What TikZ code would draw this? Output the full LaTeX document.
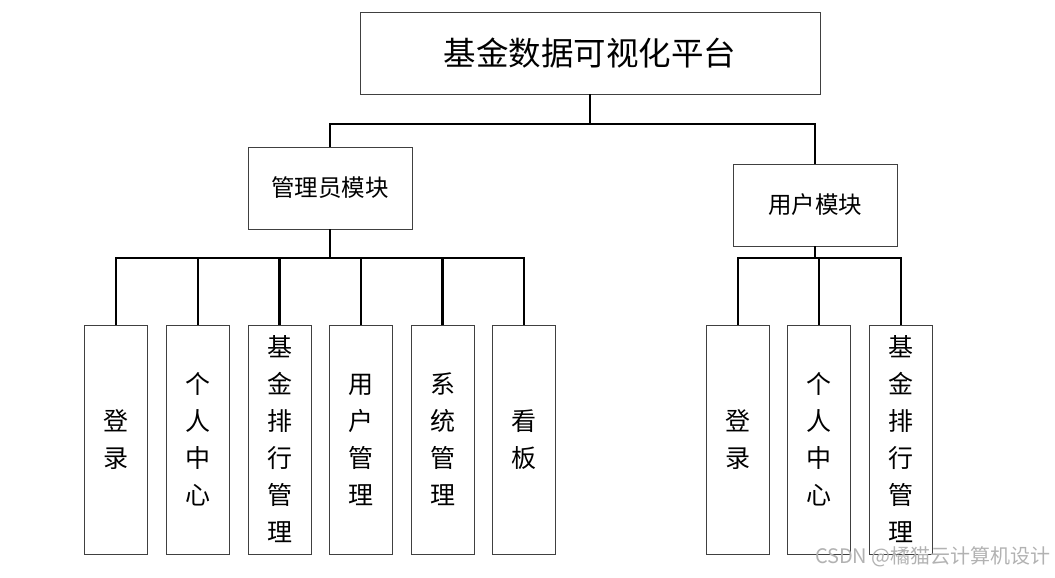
\documentclass[tikz,border=0pt]{standalone}
\usepackage{fontspec}
\setmainfont{Noto Sans CJK SC}
\begin{document}
\begin{tikzpicture}[x=1pt,y=-1pt,
  box/.style={draw=black!75, line width=0.9pt, fill=white, inner sep=0pt, align=center},
  topbox/.style={box, minimum width=460pt, minimum height=82pt, font=\fontsize{32.5}{36}\selectfont},
  modbox/.style={box, minimum width=164pt, minimum height=82pt, font=\fontsize{23.5}{28}\selectfont},
  leaf/.style={box, minimum width=63pt, minimum height=229pt, font=\fontsize{25}{37}\selectfont},
  conn/.style={draw=black, line width=2.2pt}
]
\useasboundingbox (0,0) rectangle (1055,578);
% top
\node[topbox] (top) at (590,53) {基金数据可视化平台};
% modules
\node[modbox] (admin) at (330,188) {管理员模块};
\node[modbox] (user) at (815,205) {用户模块};
% admin leaves
\node[leaf] (a1) at (116,439.5) {登\\录};
\node[leaf] (a2) at (198,439.5) {个\\人\\中\\心};
\node[leaf] (a3) at (279.5,439.5) {基\\金\\排\\行\\管\\理};
\node[leaf] (a4) at (361,439.5) {用\\户\\管\\理};
\node[leaf] (a5) at (442.5,439.5) {系\\统\\管\\理};
\node[leaf] (a6) at (524,439.5) {看\\板};
% user leaves
\node[leaf] (u1) at (738,439.5) {登\\录};
\node[leaf] (u2) at (819,439.5) {个\\人\\中\\心};
\node[leaf] (u3) at (901,439.5) {基\\金\\排\\行\\管\\理};
% junctions
\coordinate (j1) at (590,124);
\coordinate (j2) at (330,258);
\coordinate (j3) at (815,258);
% connectors
\draw[conn] (top.south) -- (j1);
\draw[conn] (j1) -| (admin.north);
\draw[conn] (j1) -| (user.north);
\draw[conn] (admin.south) -- (j2);
\foreach \n in {a1,a2,a3,a4,a5,a6} \draw[conn] (j2) -| (\n.north);
\draw[conn] (user.south) -- (j3);
\foreach \n in {u1,u2,u3} \draw[conn] (j3) -| (\n.north);
% watermark
\node[text=black!30, font=\fontsize{20}{22}\selectfont, anchor=east, inner sep=0pt] (wm) at (1051,557) {CSDN @橘猫云计算机设计};
\end{tikzpicture}
\end{document}
